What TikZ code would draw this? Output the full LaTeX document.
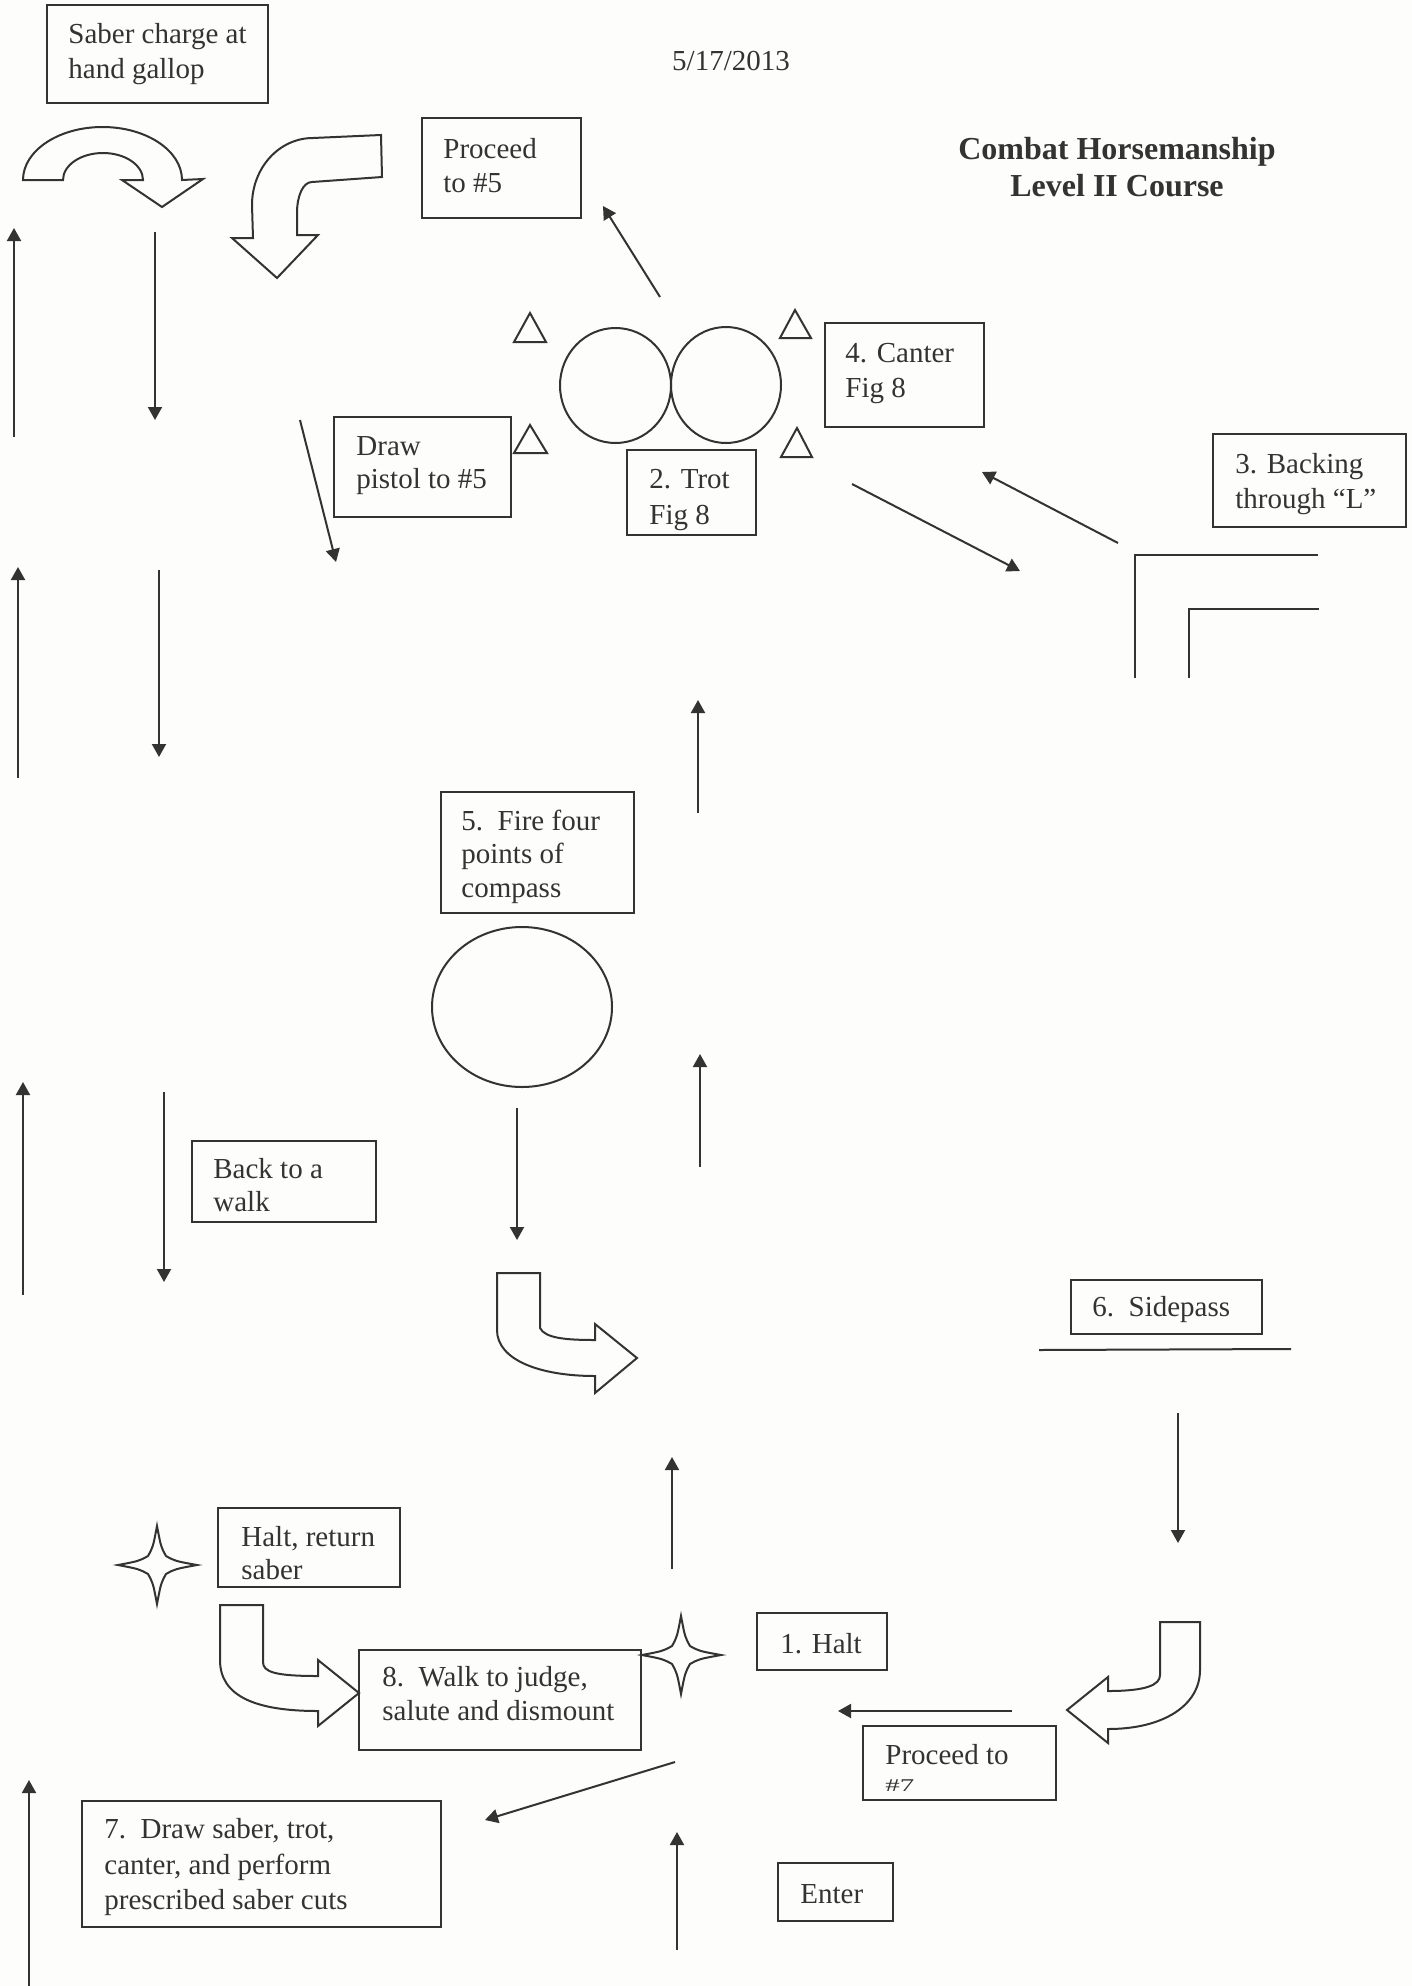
\documentclass[tikz,border=0pt]{standalone}
\usepackage{fontspec}
\setmainfont{Liberation Serif}
\usetikzlibrary{arrows.meta,fit}
\definecolor{ink}{HTML}{333333}
\definecolor{paper}{HTML}{FDFDFB}
\newcommand\txtline[4]{\node[txt] (#1) at (#2,#3) {#4};}
\newcommand\fourstar[2]{%
  \begin{scope}[shift={(#1,#2)}]
  \draw[star4] (0,-39) .. controls (4,-18) .. (9,-9) .. controls (18,-4) .. (40,0)
    .. controls (18,4) .. (9,9) .. controls (4,18) .. (0,39)
    .. controls (-4,18) .. (-9,9) .. controls (-18,4) .. (-39,0)
    .. controls (-18,-4) .. (-9,-9) .. controls (-4,-18) .. cycle;
  \end{scope}}
\begin{document}
\begin{tikzpicture}[x=0.5pt,y=-0.5pt,
  boxn/.style={draw=ink, line width=1pt, rectangle, inner sep=0pt},
  txt/.style={anchor=base west, inner sep=0pt, text=ink, font=\fontsize{14.5}{17}\selectfont},
  ttl/.style={anchor=base, inner sep=0pt, text=ink, font=\fontsize{16}{19}\selectfont\bfseries},
  arr/.style={draw=ink, line width=1pt, -{Triangle[width=7pt,length=6.5pt]}},
  plain/.style={draw=ink, line width=1pt},
  blk/.style={draw=ink, line width=1pt, fill=paper, line join=miter},
  star4/.style={draw=ink, line width=1pt, fill=paper},
]
\fill[paper] (0,0) rectangle (1412,1986);
\useasboundingbox (0,0) rectangle (1412,1986);

% ---------- title and date ----------
\node[txt, anchor=base] (date) at (731,70) {5/17/2013};
\node[ttl] (title1) at (1117,159) {Combat Horsemanship};
\node[ttl] (title2) at (1117,196) {Level II Course};

% ---------- text boxes ----------
\txtline{saberA}{68}{43}{Saber charge at}
\txtline{saberB}{68}{78}{hand gallop}
\node[boxn, fit={(47,5) (268,103)}] (saber) {};

\txtline{procA}{443}{158}{Proceed}
\txtline{procB}{443}{192}{to \#5}
\node[boxn, fit={(422,118) (581,218)}] (proc5) {};

\txtline{pistA}{356}{455}{Draw}
\txtline{pistB}{356}{488}{pistol to \#5}
\node[boxn, fit={(334,417) (511,517)}] (pistol) {};

\begin{scope}
\clip (627,450) rectangle (756,535);
\txtline{trotA}{649}{488}{2. Trot}
\txtline{trotB}{649}{524}{Fig 8}
\end{scope}
\node[boxn, fit={(627,450) (756,535)}] (trot) {};

\txtline{cantA}{845}{362}{4. Canter}
\txtline{cantB}{845}{397}{Fig 8}
\node[boxn, fit={(825,323) (984,427)}] (canter) {};

\txtline{backA}{1235}{473}{3. Backing}
\txtline{backB}{1235}{508}{through “L”}
\node[boxn, fit={(1213,434) (1406,527)}] (backing) {};

\txtline{fireA}{461}{830}{5.\ \ Fire four}
\txtline{fireB}{461}{863}{points of}
\txtline{fireC}{461}{897}{compass}
\node[boxn, fit={(441,792) (634,913)}] (fire) {};

\begin{scope}
\clip (192,1141) rectangle (376,1222);
\txtline{walkA}{213}{1178}{Back to a}
\txtline{walkB}{213}{1211}{walk}
\end{scope}
\node[boxn, fit={(192,1141) (376,1222)}] (walkbox) {};

\txtline{sideA}{1092}{1316}{6.\ \ Sidepass}
\node[boxn, fit={(1071,1280) (1262,1334)}] (sidepass) {};

\begin{scope}
\clip (218,1508) rectangle (400,1587);
\txtline{hrA}{241}{1546}{Halt, return}
\txtline{hrB}{241}{1579}{saber}
\end{scope}
\node[boxn, fit={(218,1508) (400,1587)}] (haltret) {};

\txtline{judgeA}{382}{1686}{8.\ \ Walk to judge,}
\txtline{judgeB}{382}{1720}{salute and dismount}
\node[boxn, fit={(359,1650) (641,1750)}] (judge) {};

\txtline{haltA}{780}{1653}{1. Halt}
\node[boxn, fit={(757,1613) (887,1670)}] (halt1) {};

\begin{scope}
\clip (863,1726) rectangle (1056,1800);
\txtline{p7A}{885}{1764}{Proceed to}
\txtline{p7B}{885}{1791}{\scalebox{1}[0.62]{\#7}}
\end{scope}
\node[boxn, fit={(863,1726) (1056,1800)}] (proc7) {};

\txtline{enterA}{800}{1903}{Enter}
\node[boxn, fit={(778,1863) (893,1921)}] (enter) {};

\txtline{d7A}{104}{1838}{7.\ \ Draw saber, trot,}
\txtline{d7B}{104}{1874}{canter, and perform}
\txtline{d7C}{104}{1909}{prescribed saber cuts}
\node[boxn, fit={(82,1801) (441,1927)}] (draw7) {};

% ---------- straight arrows ----------
\coordinate (a1s) at (14,437);   \coordinate (a1e) at (14,228);
\coordinate (a2s) at (155,232);  \coordinate (a2e) at (155,420);
\coordinate (a3s) at (18,778);   \coordinate (a3e) at (18,567);
\coordinate (a4s) at (159,570);  \coordinate (a4e) at (159,757);
\coordinate (a5s) at (23,1295);  \coordinate (a5e) at (23,1082);
\coordinate (a6s) at (164,1092); \coordinate (a6e) at (164,1282);
\coordinate (a7s) at (29,1986);  \coordinate (a7e) at (29,1780);
\coordinate (a8s) at (300,420);  \coordinate (a8e) at (336,562);
\coordinate (a9s) at (660,297);  \coordinate (a9e) at (603,206);
\coordinate (a10s) at (852,484); \coordinate (a10e) at (1020,571);
\coordinate (a11s) at (1118,543);\coordinate (a11e) at (982,472);
\coordinate (a12s) at (698,813); \coordinate (a12e) at (698,700);
\coordinate (a13s) at (517,1108);\coordinate (a13e) at (517,1240);
\coordinate (a14s) at (700,1167);\coordinate (a14e) at (700,1054);
\coordinate (a15s) at (1178,1413);\coordinate (a15e) at (1178,1543);
\coordinate (a16s) at (672,1569);\coordinate (a16e) at (672,1457);
\coordinate (a17s) at (1012,1711);\coordinate (a17e) at (838,1711);
\coordinate (a18s) at (675,1762);\coordinate (a18e) at (485,1820);
\coordinate (a19s) at (677,1950);\coordinate (a19e) at (677,1832);
\foreach \i in {1,...,19} { \draw[arr] (a\i s) -- (a\i e); }

% ---------- block arrows ----------
% U-turn, top left
\draw[blk] (23,180) .. controls (23,150.7) and (58.6,127) .. (102.5,127)
  .. controls (146.4,127) and (182,150.7) .. (182,180)
  -- (203,179) -- (162,207) -- (122,180) -- (143,180)
  .. controls (143,165.1) and (125.1,153) .. (103,153)
  .. controls (80.9,153) and (63,165.1) .. (63,180) -- cycle;
% bend, top
\draw[blk] (381,135) -- (313,138) .. controls (279,138) and (252,168) .. (252,205)
  -- (253,238) -- (232,238) -- (277,278) -- (318,235) -- (297,235) -- (297,213)
  .. controls (297,196) and (303,182) .. (312,182) -- (382,177) -- cycle;
% bend, middle
\draw[blk] (497,1273) -- (540,1273) -- (540,1328)
  .. controls (545,1338) and (565,1340) .. (595,1340)
  -- (595,1324) -- (637,1358) -- (595,1393) -- (595,1376)
  .. controls (540,1376) and (497,1360) .. (497,1330) -- cycle;
% bend, bottom left
\draw[blk] (220,1605) -- (263,1605) -- (263,1662)
  .. controls (263,1672) and (275,1676) .. (318,1676)
  -- (318,1660) -- (359,1693) -- (318,1726) -- (318,1711)
  .. controls (255,1711) and (220,1696) .. (220,1660) -- cycle;
% bend, bottom right
\draw[blk] (1200,1622) -- (1160,1622) -- (1160,1675)
  .. controls (1160,1685) and (1146,1691) .. (1108,1691)
  -- (1108,1677) -- (1067,1710) -- (1108,1743) -- (1108,1729)
  .. controls (1164,1729) and (1200,1705) .. (1200,1670) -- cycle;

% ---------- cones (triangles) ----------
\draw[plain, line join=miter] (530,313) -- (546,342) -- (514,342) -- cycle;
\draw[plain, line join=miter] (530,425) -- (547,453) -- (514,453) -- cycle;
\draw[plain, line join=miter] (795,310) -- (811,338) -- (780,338) -- cycle;
\draw[plain, line join=miter] (797,428) -- (812,457) -- (781,457) -- cycle;

% ---------- figure eight and circle ----------
\draw[plain] (615.5,385.5) ellipse [x radius=27.75pt, y radius=28.75pt];
\draw[plain] (726,385) ellipse [x radius=27.5pt, y radius=29pt];
\draw[plain] (522,1007) ellipse [x radius=45pt, y radius=40pt];

% ---------- L for backing ----------
\draw[plain] (1135,678) -- (1135,555) -- (1318,555);
\draw[plain] (1189,678) -- (1189,609) -- (1319,609);

% ---------- sidepass pole ----------
\draw[plain] (1039,1350) -- (1291,1349);

% ---------- stars ----------
\fourstar{157}{1565}
\fourstar{681}{1655}
\end{tikzpicture}
\end{document}
